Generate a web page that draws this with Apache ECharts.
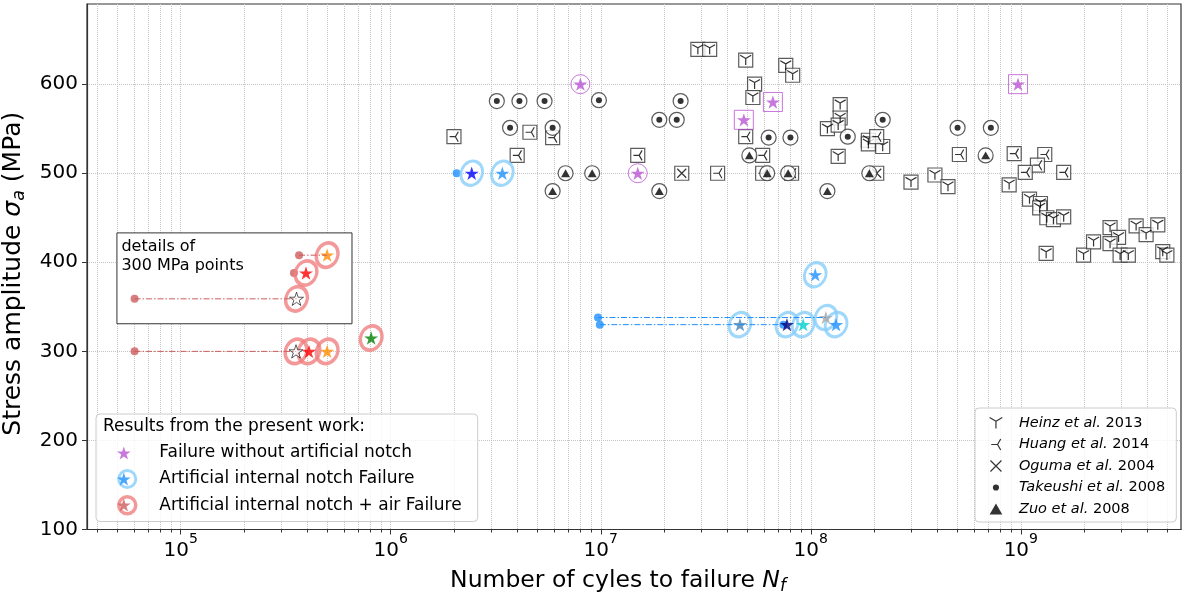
<!DOCTYPE html>
<html>
<head>
<meta charset="utf-8">
<script src="https://cdn.jsdelivr.net/npm/echarts@6/dist/echarts.min.js"></script>
<style>
  html, body { margin: 0; background: #fff; }
  #main { width: 1190px; height: 592px; }
</style>
</head>
<body>
<div id="main"></div>
<script>
// ---- literature data (cycles, stress amplitude in MPa) ----
var heinzN = [2.9e7, 3.3e7, 4.9e7, 5.4e7, 5.3e7, 7.6e7, 8.2e7, 1.2e8, 1.38e8, 1.38e8, 1.35e8, 1.35e8, 1.88e8, 2.2e8, 1.88e8,
  3.0e8, 3.9e8, 4.5e8, 8.8e8, 1.1e9, 1.24e9, 1.23e9, 1.33e9, 1.43e9, 1.6e9, 1.32e9, 1.99e9, 2.22e9, 2.66e9, 2.92e9,
  2.66e9, 2.97e9, 3.25e9, 3.54e9, 3.95e9, 4.49e9, 4.74e9, 4.96e9, 5.8e9];
var heinzS = [639, 639, 627, 600, 585, 621, 610, 550, 577, 562, 554, 519, 537, 530, 533,
  490, 498, 485, 487, 471, 466, 461, 450, 448, 451, 410, 408, 423, 439, 428,
  421, 408, 408, 441, 431, 442, 412, 408, 408];
var huangN = [2.0e6, 4.6e6, 5.9e6, 4.0e6, 1.5e7, 3.6e7, 4.9e7, 5.9e7, 5.9e7, 8.1e7, 2.06e8, 5.1e8, 9.3e8, 1.3e9, 1.2e9, 1.05e9, 1.6e9];
var huangS = [541, 546, 540, 520, 520, 500, 541, 520, 500, 500, 541, 521, 522, 521, 509, 501, 501];
var ogumaN = [2.43e7, 2.06e8];
var ogumaS = [500, 500];
var takeN = [3.2e6, 4.1e6, 5.4e6, 9.8e6, 3.7e6, 5.9e6, 2.4e7, 1.9e7, 2.3e7, 6.3e7, 8.0e7, 2.2e8, 1.5e8, 5.0e8, 7.2e8];
var takeS = [581, 581, 581, 582, 551, 551, 581, 560, 560, 540, 540, 560, 541, 551, 551];
var zuoN = [6.8e6, 9.1e6, 5.9e6, 1.9e7, 5.1e7, 6.2e7, 7.8e7, 1.2e8, 1.9e8, 6.8e8];
var zuoS = [500, 500, 480, 480, 520, 500, 500, 480, 500, 520];
var refNames = ['Heinz', 'Huang', 'Oguma', 'Takeushi', 'Zuo'];
var refYears = ['2013', '2014', '2004', '2008', '2008'];

// ---- present work ----
var purpleCircN = [8.0e6, 1.5e7];
var purpleCircS = [600, 500];
var purpleSqN = [4.8e7, 6.6e7, 9.7e8];
var purpleSqS = [560, 580, 600];

var blueN = [2.43e6, 3.4e6, 4.6e7, 7.7e7, 9.2e7, 1.18e8, 1.32e8, 1.05e8];
var blueS = [500, 500, 330, 330, 330, 338, 330, 386];
var blueDotN = [2.06e6, 9.7e6, 9.9e6, 7.4e7];
var blueDotS = [500, 338, 330, 330];
var blueLineFrom = [9.7e6, 9.9e6];
var blueLineTo = [1.18e8, 7.4e7];
var blueLineS = [338, 330];

var redN = [3.54e5, 4.08e5, 4.98e5, 8.07e5, 3.56e5, 3.95e5, 4.98e5];
var redS = [300, 300, 300, 315, 359, 388, 408];
var redDotN = [6.03e4, 6.03e4, 3.66e5, 3.46e5];
var redDotS = [300, 359, 408, 388];
var redLineFrom = [6.03e4, 6.03e4, 3.66e5];
var redLineTo = [3.54e5, 3.56e5, 4.98e5];
var redLineS = [300, 359, 408];

var xTicks = [1e5, 1e6, 1e7, 1e8, 1e9];
var yTicks = [100, 200, 300, 400, 500, 600];

// star colours of the individual specimens
var blueColors = ['#0000ff', '#1e90ff', '#4682b4', '#000080', '#00ced1', '#a9a9a9', '#1e90ff', '#1e90ff'];
var redColors = ['#ffffff', '#ff0000', '#ff8c00', '#008000', '#ffffff', '#ff0000', '#ff8c00'];

var FONT = 'DejaVu Sans';
var TRANSP = 'rgba(0,0,0,0)';
var STAR = 'path://M100,0L122.45,69.1L195.11,69.1L136.33,111.8L158.78,180.9L100,138.2L41.22,180.9L63.67,111.8L4.89,69.1L77.55,69.1Z';
var TRI_DOWN = 'path://M86.6,50L86.6,150M86.6,50L0,0M86.6,50L173.2,0';
var TRI_LEFT = 'path://M100,86.6L0,86.6M100,86.6L150,0M100,86.6L150,173.2';
var CROSS = 'path://M0,0L100,100M100,0L0,100';
var TRIANGLE = 'path://M50,0L100,86.6L0,86.6Z';
// small dot inside a bigger empty box, for the legend only
var SMALL_DOT = 'path://M0,0L0,0.01M100,100L100,100.01M22,50A28,28,0,1,0,78,50A28,28,0,1,0,22,50Z';
var X_MIN = 3.58e4, X_MAX = 5.79e9;

var minorTicks = [];
for (var d = 4; d <= 9; d++) {
  for (var k = 2; k <= 9; k++) {
    var v = k * Math.pow(10, d);
    if (v > X_MIN && v < X_MAX) minorTicks.push(v);
  }
}

function pts(n, s) {
  return n.map(function (v, i) { return [v, s[i]]; });
}
function colored(n, s, colors) {
  return n.map(function (v, i) {
    var st = { color: colors[i] };
    if (colors[i] === '#ffffff') { st.borderColor = '#000'; st.borderWidth = 0.8; }
    return { value: [v, s[i]], itemStyle: st };
  });
}
function frame(n, s, symbol, size) {
  return {
    type: 'scatter', data: pts(n, s), symbol: symbol, symbolSize: size, silent: true,
    itemStyle: { color: '#ffffff', borderColor: '#333333', borderWidth: 1.2 }
  };
}
function mark(name, n, s, symbol, size, filled) {
  return {
    name: name, type: 'scatter', data: pts(n, s), symbol: symbol, symbolSize: size,
    symbolKeepAspect: true, silent: true,
    itemStyle: filled ? { color: '#000' } : { color: TRANSP, borderColor: '#000', borderWidth: 1.2 }
  };
}
function segment(x0, x1, s, color) {
  return {
    type: 'line', data: [[x0, s], [x1, s]], symbol: 'none', silent: true,
    lineStyle: { color: color, width: 1, type: [6, 2, 1.5, 2] }
  };
}

var heinzFrame = frame(heinzN, heinzS, 'rect', 14);
heinzFrame.markArea = {
  silent: true,
  itemStyle: { color: '#ffffff', borderColor: '#333333', borderWidth: 1 },
  label: {
    show: true, position: 'insideTopLeft', distance: 5,
    formatter: 'details of\n300 MPa points',
    fontFamily: FONT, fontSize: 16, lineHeight: 19, color: '#000'
  },
  data: [[{ coord: [4.97e4, 433] }, { coord: [6.54e5, 331] }]]
};

var series = [
  heinzFrame,
  mark('Heinz', heinzN, heinzS, TRI_DOWN, 11, false),
  frame(huangN, huangS, 'rect', 14),
  mark('Huang', huangN, huangS, TRI_LEFT, 10, false),
  frame(ogumaN, ogumaS, 'rect', 14),
  mark('Oguma', ogumaN, ogumaS, CROSS, 9, false),
  frame(takeN, takeS, 'circle', 15),
  mark('Takeushi', takeN, takeS, 'circle', 6, true),
  frame(zuoN, zuoS, 'circle', 15),
  mark('Zuo', zuoN, zuoS, TRIANGLE, 9, true),
  {
    type: 'scatter', data: pts(purpleCircN, purpleCircS), symbol: 'circle', symbolSize: 19, silent: true,
    itemStyle: { color: TRANSP, borderColor: '#ba55d3', borderWidth: 1 }
  },
  {
    type: 'scatter', data: pts(purpleSqN, purpleSqS), symbol: 'rect', symbolSize: 19, silent: true,
    itemStyle: { color: TRANSP, borderColor: '#ba55d3', borderWidth: 1 }
  },
  {
    name: 'Failure without artificial notch', type: 'scatter', silent: true,
    data: pts(purpleCircN.concat(purpleSqN), purpleCircS.concat(purpleSqS)),
    symbol: STAR, symbolSize: 14, symbolKeepAspect: true,
    itemStyle: { color: '#ba55d3' }
  }
];
blueLineFrom.forEach(function (x0, i) { series.push(segment(x0, blueLineTo[i], blueLineS[i], '#1e90ff')); });
redLineFrom.forEach(function (x0, i) { series.push(segment(x0, redLineTo[i], redLineS[i], '#cd5c5c')); });
series.push(
  {
    type: 'scatter', data: pts(blueDotN, blueDotS), symbol: 'circle', symbolSize: 8, silent: true,
    itemStyle: { color: '#1e90ff' }
  },
  {
    type: 'scatter', data: pts(redDotN, redDotS), symbol: 'circle', symbolSize: 8, silent: true,
    itemStyle: { color: '#cd5c5c' }
  },
  {
    name: 'Artificial internal notch Failure', type: 'scatter', data: pts(blueN, blueS), silent: true,
    symbol: 'circle', symbolSize: [21, 25], symbolRotate: -25,
    itemStyle: { color: TRANSP, borderColor: '#87cefa', borderWidth: 3 }
  },
  {
    name: 'Artificial internal notch + air Failure', type: 'scatter', data: pts(redN, redS), silent: true,
    symbol: 'circle', symbolSize: [21, 25], symbolRotate: -25,
    itemStyle: { color: TRANSP, borderColor: '#f08080', borderWidth: 3.5 }
  },
  {
    name: 'blueStars', type: 'scatter', data: colored(blueN, blueS, blueColors), silent: true,
    symbol: STAR, symbolSize: 14, symbolKeepAspect: true,
    itemStyle: { color: '#1e90ff', borderWidth: 0 }
  },
  {
    name: 'redStars', type: 'scatter', data: colored(redN, redS, redColors), silent: true,
    symbol: STAR, symbolSize: 14, symbolKeepAspect: true,
    itemStyle: { color: '#cd5c5c', borderWidth: 0 }
  }
);

var presentLabels = {
  'Failure without artificial notch': 'Failure without artificial notch',
  'Artificial internal notch Failure': 'Artificial internal notch Failure',
  'blueStars': 'Artificial internal notch Failure',
  'Artificial internal notch + air Failure': 'Artificial internal notch + air Failure',
  'redStars': 'Artificial internal notch + air Failure'
};
var legendBox = {
  orient: 'vertical', selectedMode: false,
  backgroundColor: 'rgba(255,255,255,0.8)', borderColor: '#cccccc', borderWidth: 1, borderRadius: 4
};
var presentPadding = [29, 16, 6, 21];

var option = {
  animation: false,
  backgroundColor: '#ffffff',
  grid: {
    left: 87, right: 9, top: 4, bottom: 62.5, outerBoundsMode: 'none', containLabel: false,
    show: true, borderColor: '#333333', borderWidth: 1.2
  },
  title: {
    text: 'Results from the present work:', left: 103, top: 417, padding: 0, z: 10,
    textStyle: { fontFamily: FONT, fontSize: 17, fontWeight: 'normal', color: '#000', lineHeight: 20 }
  },
  xAxis: [
    {
      type: 'log', logBase: 10, min: X_MIN, max: X_MAX,
      name: 'Number of cyles to failure {i|N}{s|f}', nameLocation: 'middle', nameGap: 28,
      nameTextStyle: {
        fontFamily: FONT, fontSize: 23.5, color: '#000', lineHeight: 30, padding: [0, 32, 0, 0],
        rich: {
          i: { fontFamily: FONT, fontSize: 23.5, fontStyle: 'italic', color: '#000' },
          s: { fontFamily: FONT, fontSize: 17, fontStyle: 'italic', color: '#000', lineHeight: 16, verticalAlign: 'bottom' }
        }
      },
      axisLine: { lineStyle: { color: '#333333', width: 1.2 } },
      axisTick: { length: 5, customValues: xTicks, lineStyle: { color: '#333333' } },
      axisLabel: {
        customValues: xTicks, margin: 3,
        formatter: function (v) { return '{b|10}{p|' + Math.round(Math.log10(v)) + '}'; },
        rich: {
          b: { fontFamily: FONT, fontSize: 20, color: '#000', lineHeight: 28, verticalAlign: 'bottom' },
          p: { fontFamily: FONT, fontSize: 14, color: '#000', lineHeight: 14, verticalAlign: 'top' }
        }
      },
      splitLine: { show: true, lineStyle: { color: '#c4c4c4', width: 1, type: 'dotted' } }
    },
    {
      type: 'log', logBase: 10, min: X_MIN, max: X_MAX, position: 'bottom',
      axisLine: { show: false },
      axisTick: { length: 3, customValues: minorTicks, lineStyle: { color: '#333333' } },
      axisLabel: { show: false },
      splitLine: { show: true, lineStyle: { color: '#c4c4c4', width: 1, type: 'dotted' } }
    }
  ],
  yAxis: {
    type: 'value', min: 100, max: 690,
    name: 'Stress amplitude {i|σ}{s|a} (MPa)', nameLocation: 'middle', nameGap: 49,
    nameTextStyle: {
      fontFamily: FONT, fontSize: 25, color: '#000', lineHeight: 30, padding: [0, 14, 0, 0],
      rich: {
        i: { fontFamily: FONT, fontSize: 25, fontStyle: 'italic', color: '#000' },
        s: { fontFamily: FONT, fontSize: 17.5, fontStyle: 'italic', color: '#000', lineHeight: 16, verticalAlign: 'bottom' }
      }
    },
    axisLine: { show: true, lineStyle: { color: '#333333', width: 1.2 } },
    axisTick: { show: true, length: 5, customValues: yTicks, lineStyle: { color: '#333333' } },
    axisLabel: { customValues: yTicks, margin: 9, fontFamily: FONT, fontSize: 20, color: '#000' },
    splitLine: { show: true, lineStyle: { color: '#c4c4c4', width: 1, type: 'dotted' } }
  },
  legend: [
    Object.assign({}, legendBox, {
      left: 96, top: 414, padding: presentPadding,
      itemWidth: 54, itemHeight: 17, itemGap: 6,
      itemStyle: { borderWidth: 'inherit' },
      textStyle: { fontFamily: FONT, fontSize: 17, color: '#000', lineHeight: 20 },
      data: [
        { name: 'Failure without artificial notch', itemStyle: { opacity: 0 } },
        'Artificial internal notch Failure',
        'Artificial internal notch + air Failure'
      ]
    }),
    {
      orient: 'vertical', selectedMode: false, z: 5,
      left: 96, top: 414, padding: presentPadding,
      itemWidth: 54, itemHeight: 13, itemGap: 6,
      textStyle: { fontFamily: FONT, fontSize: 17, color: TRANSP, lineHeight: 20 },
      formatter: function (name) { return presentLabels[name]; },
      data: ['Failure without artificial notch', 'blueStars', 'redStars']
    },
    Object.assign({}, legendBox, {
      left: 975, top: 408, padding: [6, 11, 4, 14],
      itemWidth: 36, itemHeight: 11, itemGap: 3.5,
      itemStyle: { borderWidth: 'inherit' },
      textStyle: {
        fontFamily: FONT, fontSize: 14.5, color: '#000', lineHeight: 18,
        rich: { i: { fontFamily: FONT, fontSize: 14.5, fontStyle: 'italic', color: '#000' } }
      },
      formatter: function (name) {
        return '{i|' + name + ' et al.} ' + refYears[refNames.indexOf(name)];
      },
      data: ['Heinz', 'Huang', 'Oguma', { name: 'Takeushi', icon: SMALL_DOT }, 'Zuo']
    })
  ],
  series: series
};

var chart = echarts.init(document.getElementById('main'));
chart.setOption(option);
</script>
</body>
</html>
